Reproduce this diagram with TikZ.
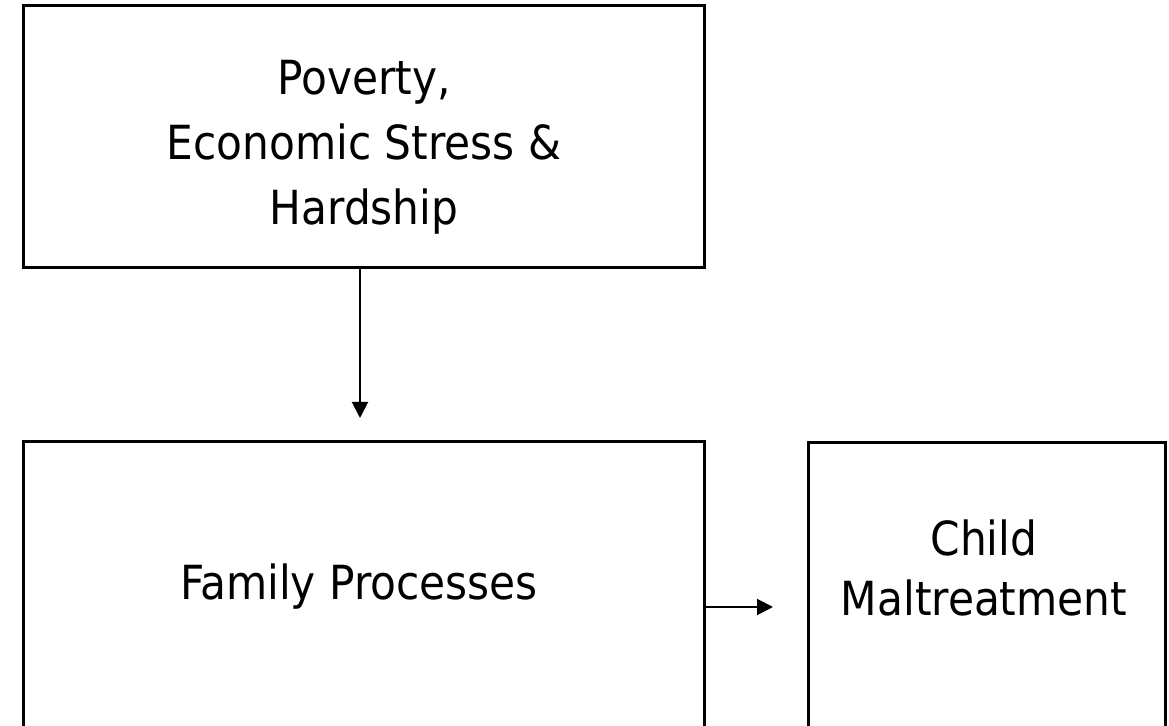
\documentclass[tikz,border=0pt]{standalone}
\usepackage{fontspec}
\setmainfont{DejaVu Sans Condensed}
\usetikzlibrary{arrows.meta}
\begin{document}
\begin{tikzpicture}[x=0.5pt,y=-0.5pt,
  box/.style={draw=black,line width=1.5pt,inner sep=0pt},
  lbl/.style={align=center,font=\fontsize{23.5}{32.5}\selectfont,inner sep=0pt,anchor=base},
  arr/.style={line width=1pt,-{Triangle[length=8pt,width=8pt]}}]
\useasboundingbox (0,0) rectangle (1169,726);
\clip (0,0) rectangle (1169,726);
\node[box,minimum width=681*0.5pt,minimum height=261.5*0.5pt] (b1) at (364,136.75) {};
\node[box,minimum width=681*0.5pt,minimum height=358*0.5pt] (b2) at (364,621) {};
\node[box,minimum width=357.5*0.5pt,minimum height=357*0.5pt] (b3) at (986.75,621.5) {};
\node[lbl] (t1) at (364,225) {Poverty,\\Economic Stress \&\\Hardship};
\node[lbl] (t2) at (359,600) {Family Processes};
\node[lbl,font=\fontsize{23.5}{30}\selectfont] (t3) at (984,616) {Child\\Maltreatment};
\coordinate (e1) at (360,418);
\coordinate (e2) at (773,607);
\draw[arr] (b1.south -| e1) -- (e1);
\draw[arr] (b2.east |- e2) -- (e2);
\end{tikzpicture}
\end{document}
